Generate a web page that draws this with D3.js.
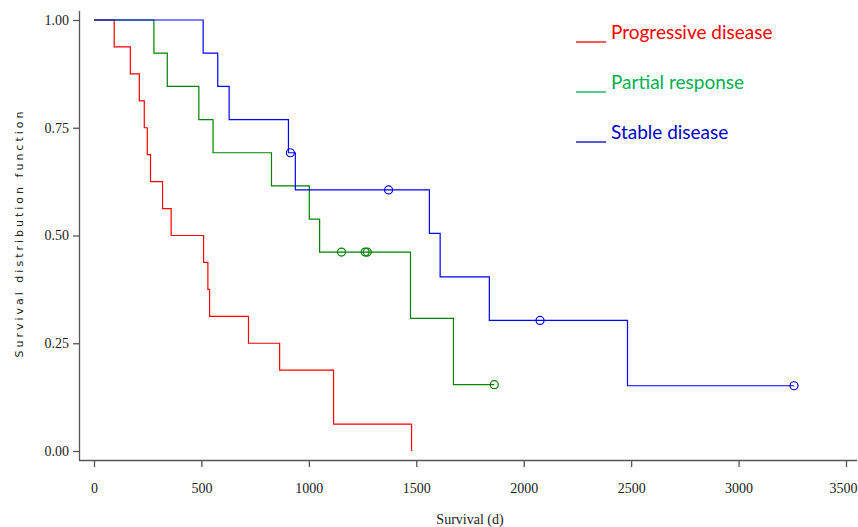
<!DOCTYPE html>
<html>
<head>
<meta charset="utf-8">
<script src="https://cdn.jsdelivr.net/npm/d3@7"></script>
<style>
  body { margin: 0; background: #fff; }
  svg { display: block; }
</style>
</head>
<body>
<svg id="chart"></svg>
<script>
// Kaplan-Meier step points (time in days, survival)
var progressiveTimes = [0, 94, 169, 211, 234, 248, 263, 319, 359, 510, 530, 538, 719, 864, 1115, 1478];
var progressiveSurv  = [1, 0.9375, 0.875, 0.8125, 0.75, 0.6875, 0.625, 0.5625, 0.5, 0.4375, 0.375, 0.3125, 0.25, 0.1875, 0.0625, 0];
var progressiveCens  = [];

var partialTimes = [0, 279, 341, 488, 554, 826, 1002, 1050, 1473, 1673, 1863];
var partialSurv  = [1, 0.923, 0.846, 0.769, 0.692, 0.615, 0.538, 0.4615, 0.3077, 0.1538, 0.1538];
var partialCens  = [[1152, 0.4615], [1262, 0.4615], [1272, 0.4615], [1863, 0.1538]];

var stableTimes = [0, 508, 576, 629, 905, 937, 1561, 1611, 1840, 2483, 3258];
var stableSurv  = [1, 0.923, 0.846, 0.769, 0.692, 0.6058, 0.5048, 0.4038, 0.3029, 0.1514, 0.1514];
var stableCens  = [[914, 0.692], [1371, 0.6058], [2076, 0.3029], [3258, 0.1514]];

var xTicks = [0, 500, 1000, 1500, 2000, 2500, 3000, 3500];
var yTicks = [0, 0.25, 0.5, 0.75, 1];

var seriesNames = ["Progressive disease", "Partial response", "Stable disease"];
var lineColors = ["#ff0000", "#008000", "#0000ff"];
var legendColors = ["#ff0000", "#00b050", "#0000c0"];

var w = 858, h = 527;
var svg = d3.select("#chart").attr("width", w).attr("height", h);

var x = d3.scaleLinear().domain([0, 3500]).range([94, 846]);
var y = d3.scaleLinear().domain([0, 1]).range([451, 20]);

var axisColor = "#555";

// axes lines
svg.append("line").attr("x1", 79.5).attr("x2", 79.5).attr("y1", 11).attr("y2", 460)
  .attr("stroke", axisColor).attr("stroke-width", 1.3);
svg.append("line").attr("x1", 79).attr("x2", 857).attr("y1", 460.5).attr("y2", 460.5)
  .attr("stroke", axisColor).attr("stroke-width", 1.3);

var xAxis = svg.append("g").attr("transform", "translate(0,460)")
  .call(d3.axisBottom(x).tickValues(xTicks).tickSize(7).tickPadding(16).tickFormat(d3.format("d")));
var yAxis = svg.append("g").attr("transform", "translate(79,0)")
  .call(d3.axisLeft(y).tickValues(yTicks).tickSize(6).tickPadding(4).tickFormat(d3.format(".2f")));

[xAxis, yAxis].forEach(function(a) {
  a.select(".domain").remove();
  a.attr("font-family", "'Liberation Serif', 'Times New Roman', serif").attr("font-size", 14);
  a.selectAll(".tick line").attr("stroke", axisColor).attr("stroke-width", 1.3);
  a.selectAll(".tick text").attr("fill", "#222");
});

// last x label sits against the right edge like in the original
xAxis.selectAll(".tick text").filter(function(d) { return d === 3500; })
  .attr("text-anchor", "end").attr("x", 11);

// axis titles
svg.append("text").attr("x", 470).attr("y", 524).attr("text-anchor", "middle")
  .style("font-family", "'Liberation Serif', 'Times New Roman', serif").style("font-size", "14px")
  .attr("fill", "#222").text("Survival (d)");

svg.append("text").attr("transform", "translate(23,233) rotate(-90)").attr("text-anchor", "middle")
  .style("font-family", "'DejaVu Sans', sans-serif").style("font-size", "11px")
  .style("letter-spacing", "3px").attr("fill", "#222").text("Survival distribution function");

// curves
var series = [
  {t: progressiveTimes, s: progressiveSurv, c: progressiveCens},
  {t: partialTimes, s: partialSurv, c: partialCens},
  {t: stableTimes, s: stableSurv, c: stableCens}
];

var line = d3.line()
  .x(function(d) { return x(d[0]); })
  .y(function(d) { return y(d[1]); })
  .curve(d3.curveStepAfter);

series.forEach(function(sr, i) {
  var pts = sr.t.map(function(t, j) { return [t, sr.s[j]]; });
  svg.append("path").datum(pts).attr("d", line)
    .attr("fill", "none").attr("stroke", lineColors[i]).attr("stroke-width", 1.2);
  svg.selectAll(null).data(sr.c).enter().append("circle")
    .attr("cx", function(d) { return x(d[0]); })
    .attr("cy", function(d) { return y(d[1]); })
    .attr("r", 4)
    .attr("fill", "none").attr("stroke", lineColors[i]).attr("stroke-width", 1.2);
});

// legend
var legend = svg.append("g");
seriesNames.forEach(function(name, i) {
  var ly = 42 + i * 50;
  legend.append("line").attr("x1", 576).attr("x2", 606).attr("y1", ly).attr("y2", ly)
    .attr("stroke", legendColors[i]).attr("stroke-width", 1.3);
  legend.append("text").attr("x", 611).attr("y", ly - 3)
    .style("font-family", "Lato, 'Open Sans', sans-serif").style("font-size", "19px")
    .attr("fill", legendColors[i]).text(name);
});
</script>
</body>
</html>
